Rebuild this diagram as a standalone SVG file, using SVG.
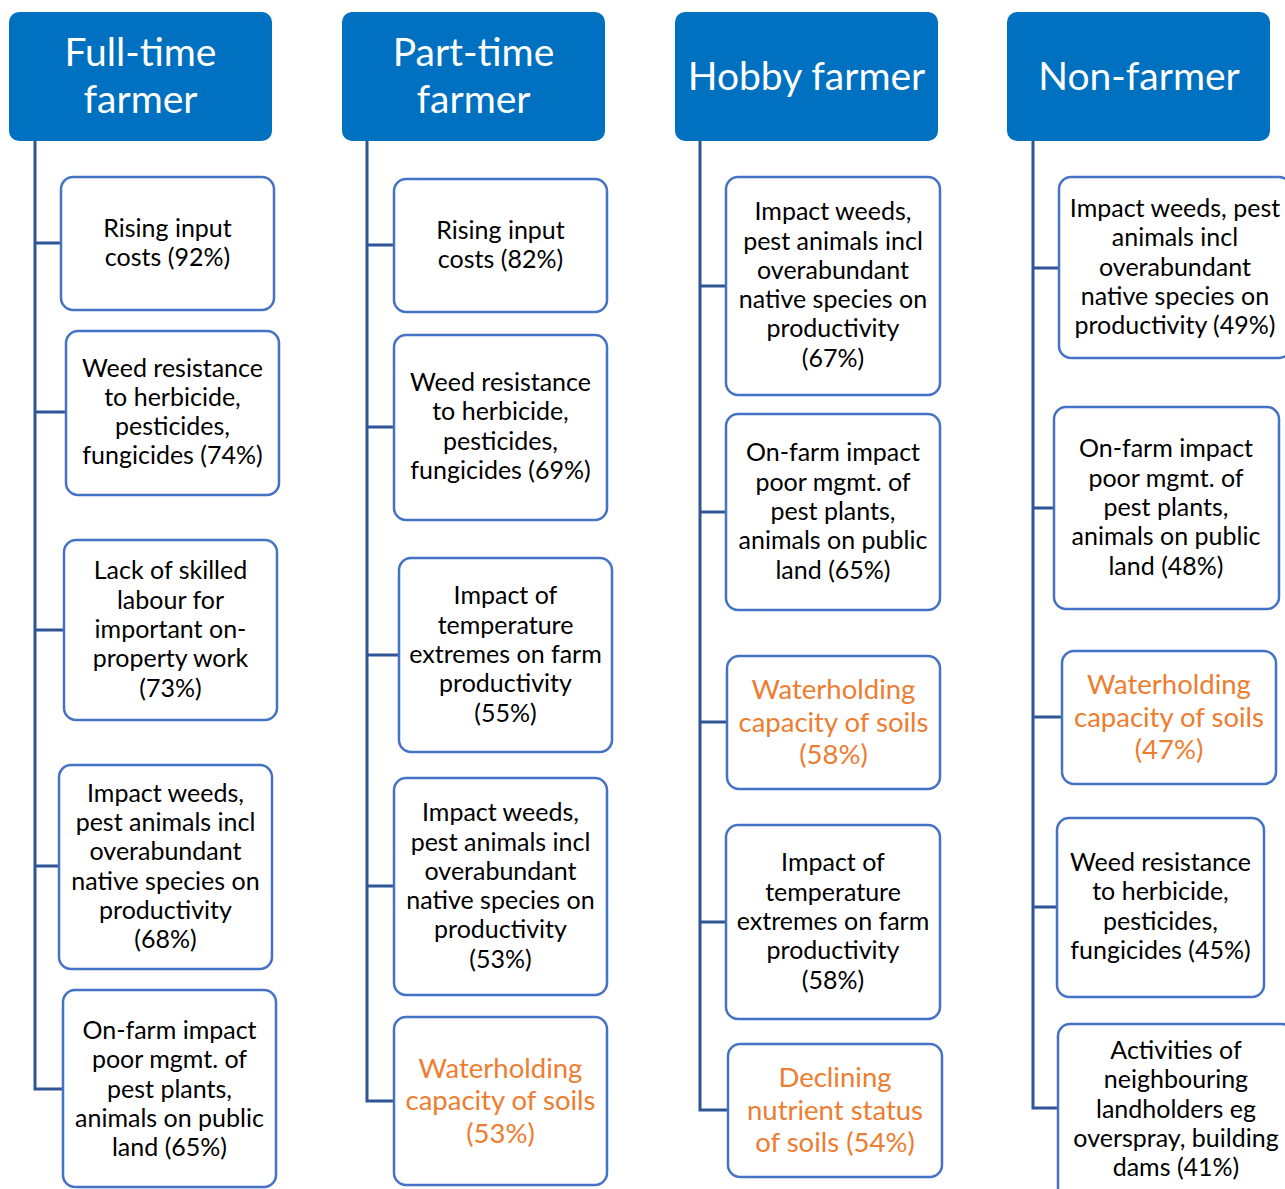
<svg xmlns="http://www.w3.org/2000/svg" width="1285" height="1189" viewBox="0 0 1285 1189">
  <style>
    .hdr { fill: #0070C0; }
    .hdr-t { fill: #FFFFFF; font-family: Lato, "Open Sans", "Liberation Sans", sans-serif; font-size: 39px; text-anchor: middle; }
    .box { fill: #FFFFFF; stroke: #4472C4; stroke-width: 2.5; }
    .t { fill: #000000; font-family: Lato, "Open Sans", "Liberation Sans", sans-serif; font-size: 25px; text-anchor: middle; }
    .o { fill: #ED7D31; font-family: Lato, "Open Sans", "Liberation Sans", sans-serif; font-size: 27.5px; text-anchor: middle; }
    .conn { fill: none; stroke: #2F5597; stroke-width: 3; }
  </style>
  <rect width="1285" height="1189" fill="#FFFFFF"/>

  <!-- connectors -->
  <g id="connectors" class="conn">
    <path d="M35,141 V1089 H63 M35,243 H61 M35,412 H66 M35,630 H64 M35,866 H59"/>
    <path d="M367,141 V1101 H394 M367,245 H394 M367,427 H394 M367,655 H399 M367,886 H394"/>
    <path d="M700,141 V1110 H728 M700,286 H726 M700,512 H726 M700,722 H727 M700,922 H726"/>
    <path d="M1033,141 V1108 H1057 M1033,268 H1059 M1033,508 H1054 M1033,717 H1062 M1033,907 H1057"/>
  </g>

  <!-- Full-time farmer -->
  <g id="hdr-fulltime">
    <rect class="hdr" x="9" y="12" width="263" height="129" rx="10"/>
    <text class="hdr-t" x="140.5" y="66">Full-time</text>
    <text class="hdr-t" x="140.5" y="113">farmer</text>
  </g>
  <g id="ft-1">
    <rect class="box" x="61" y="177" width="213" height="133" rx="12"/>
    <text class="t" x="167.5" y="237">Rising input</text>
    <text class="t" x="167.5" y="266.3">costs (92%)</text>
  </g>
  <g id="ft-2">
    <rect class="box" x="66" y="331" width="213" height="164" rx="12"/>
    <text class="t" x="172.5" y="376.5">Weed resistance</text>
    <text class="t" x="172.5" y="405.8">to herbicide,</text>
    <text class="t" x="172.5" y="435.1">pesticides,</text>
    <text class="t" x="172.5" y="464.4">fungicides (74%)</text>
  </g>
  <g id="ft-3">
    <rect class="box" x="64" y="540" width="213" height="180" rx="12"/>
    <text class="t" x="170.5" y="579.4">Lack of skilled</text>
    <text class="t" x="170.5" y="608.7">labour for</text>
    <text class="t" x="170.5" y="638">important on-</text>
    <text class="t" x="170.5" y="667.3">property work</text>
    <text class="t" x="170.5" y="696.6">(73%)</text>
  </g>
  <g id="ft-4">
    <rect class="box" x="59" y="765" width="213" height="204" rx="12"/>
    <text class="t" x="165.5" y="801.7">Impact weeds,</text>
    <text class="t" x="165.5" y="831">pest animals incl</text>
    <text class="t" x="165.5" y="860.3">overabundant</text>
    <text class="t" x="165.5" y="889.6">native species on</text>
    <text class="t" x="165.5" y="918.9">productivity</text>
    <text class="t" x="165.5" y="948.2">(68%)</text>
  </g>
  <g id="ft-5">
    <rect class="box" x="63" y="990" width="213" height="197" rx="12"/>
    <text class="t" x="169.5" y="1039">On-farm impact</text>
    <text class="t" x="169.5" y="1068.3">poor mgmt. of</text>
    <text class="t" x="169.5" y="1097.6">pest plants,</text>
    <text class="t" x="169.5" y="1126.9">animals on public</text>
    <text class="t" x="169.5" y="1156.2">land (65%)</text>
  </g>

  <!-- Part-time farmer -->
  <g id="hdr-parttime">
    <rect class="hdr" x="342" y="12" width="263" height="129" rx="10"/>
    <text class="hdr-t" x="473.5" y="66">Part-time</text>
    <text class="hdr-t" x="473.5" y="113">farmer</text>
  </g>
  <g id="pt-1">
    <rect class="box" x="394" y="179" width="213" height="133" rx="12"/>
    <text class="t" x="500.5" y="239">Rising input</text>
    <text class="t" x="500.5" y="268.3">costs (82%)</text>
  </g>
  <g id="pt-2">
    <rect class="box" x="394" y="335" width="213" height="185" rx="12"/>
    <text class="t" x="500.5" y="391">Weed resistance</text>
    <text class="t" x="500.5" y="420.3">to herbicide,</text>
    <text class="t" x="500.5" y="449.6">pesticides,</text>
    <text class="t" x="500.5" y="478.9">fungicides (69%)</text>
  </g>
  <g id="pt-3">
    <rect class="box" x="399" y="558" width="213" height="194" rx="12"/>
    <text class="t" x="505.5" y="604.4">Impact of</text>
    <text class="t" x="505.5" y="633.7">temperature</text>
    <text class="t" x="505.5" y="663">extremes on farm</text>
    <text class="t" x="505.5" y="692.3">productivity</text>
    <text class="t" x="505.5" y="721.6">(55%)</text>
  </g>
  <g id="pt-4">
    <rect class="box" x="394" y="778" width="213" height="217" rx="12"/>
    <text class="t" x="500.5" y="821.2">Impact weeds,</text>
    <text class="t" x="500.5" y="850.5">pest animals incl</text>
    <text class="t" x="500.5" y="879.8">overabundant</text>
    <text class="t" x="500.5" y="909.1">native species on</text>
    <text class="t" x="500.5" y="938.4">productivity</text>
    <text class="t" x="500.5" y="967.7">(53%)</text>
  </g>
  <g id="pt-5">
    <rect class="box" x="394" y="1017" width="213" height="168" rx="12"/>
    <text class="o" x="500.5" y="1077.5">Waterholding</text>
    <text class="o" x="500.5" y="1110">capacity of soils</text>
    <text class="o" x="500.5" y="1142.5">(53%)</text>
  </g>

  <!-- Hobby farmer -->
  <g id="hdr-hobby">
    <rect class="hdr" x="675" y="12" width="263" height="129" rx="10"/>
    <text class="hdr-t" x="806.5" y="89.5">Hobby farmer</text>
  </g>
  <g id="hb-1">
    <rect class="box" x="726" y="177" width="214" height="218" rx="12"/>
    <text class="t" x="833" y="220.2">Impact weeds,</text>
    <text class="t" x="833" y="249.5">pest animals incl</text>
    <text class="t" x="833" y="278.8">overabundant</text>
    <text class="t" x="833" y="308.1">native species on</text>
    <text class="t" x="833" y="337.4">productivity</text>
    <text class="t" x="833" y="366.7">(67%)</text>
  </g>
  <g id="hb-2">
    <rect class="box" x="726" y="414" width="214" height="196" rx="12"/>
    <text class="t" x="833" y="461.4">On-farm impact</text>
    <text class="t" x="833" y="490.7">poor mgmt. of</text>
    <text class="t" x="833" y="520">pest plants,</text>
    <text class="t" x="833" y="549.3">animals on public</text>
    <text class="t" x="833" y="578.6">land (65%)</text>
  </g>
  <g id="hb-3">
    <rect class="box" x="727" y="656" width="213" height="133" rx="12"/>
    <text class="o" x="833.5" y="699">Waterholding</text>
    <text class="o" x="833.5" y="731.5">capacity of soils</text>
    <text class="o" x="833.5" y="764">(58%)</text>
  </g>
  <g id="hb-4">
    <rect class="box" x="726" y="825" width="214" height="194" rx="12"/>
    <text class="t" x="833" y="871.4">Impact of</text>
    <text class="t" x="833" y="900.7">temperature</text>
    <text class="t" x="833" y="930">extremes on farm</text>
    <text class="t" x="833" y="959.3">productivity</text>
    <text class="t" x="833" y="988.6">(58%)</text>
  </g>
  <g id="hb-5">
    <rect class="box" x="728" y="1044" width="214" height="133" rx="12"/>
    <text class="o" x="835" y="1087">Declining</text>
    <text class="o" x="835" y="1119.5">nutrient status</text>
    <text class="o" x="835" y="1152">of soils (54%)</text>
  </g>

  <!-- Non-farmer -->
  <g id="hdr-nonfarmer">
    <rect class="hdr" x="1007" y="12" width="263" height="129" rx="10"/>
    <text class="hdr-t" x="1139" y="89.5">Non-farmer</text>
  </g>
  <g id="nf-1">
    <rect class="box" x="1059" y="177" width="232" height="181" rx="12"/>
    <text class="t" x="1175" y="217">Impact weeds, pest</text>
    <text class="t" x="1175" y="246.3">animals incl</text>
    <text class="t" x="1175" y="275.6">overabundant</text>
    <text class="t" x="1175" y="304.9">native species on</text>
    <text class="t" x="1175" y="334.2">productivity (49%)</text>
  </g>
  <g id="nf-2">
    <rect class="box" x="1054" y="407" width="225" height="202" rx="12"/>
    <text class="t" x="1166" y="457.4">On-farm impact</text>
    <text class="t" x="1166" y="486.7">poor mgmt. of</text>
    <text class="t" x="1166" y="516">pest plants,</text>
    <text class="t" x="1166" y="545.3">animals on public</text>
    <text class="t" x="1166" y="574.6">land (48%)</text>
  </g>
  <g id="nf-3">
    <rect class="box" x="1062" y="651" width="214" height="133" rx="12"/>
    <text class="o" x="1169" y="694">Waterholding</text>
    <text class="o" x="1169" y="726.5">capacity of soils</text>
    <text class="o" x="1169" y="759">(47%)</text>
  </g>
  <g id="nf-4">
    <rect class="box" x="1057" y="818" width="207" height="179" rx="12"/>
    <text class="t" x="1160.5" y="871">Weed resistance</text>
    <text class="t" x="1160.5" y="900.3">to herbicide,</text>
    <text class="t" x="1160.5" y="929.6">pesticides,</text>
    <text class="t" x="1160.5" y="958.9">fungicides (45%)</text>
  </g>
  <g id="nf-5">
    <rect class="box" x="1058" y="1024" width="236" height="180" rx="12"/>
    <text class="t" x="1176" y="1059">Activities of</text>
    <text class="t" x="1176" y="1088.3">neighbouring</text>
    <text class="t" x="1176" y="1117.6">landholders eg</text>
    <text class="t" x="1176" y="1146.9">overspray, building</text>
    <text class="t" x="1176" y="1176.2">dams (41%)</text>
  </g>
</svg>
